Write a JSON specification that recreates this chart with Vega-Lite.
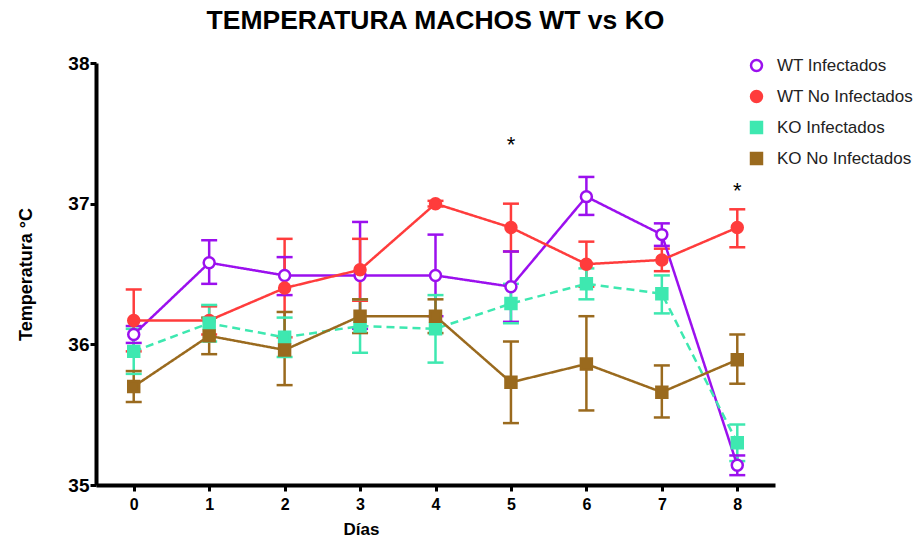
{
  "$schema": "https://vega.github.io/schema/vega-lite/v6.json",
  "autosize": "none",
  "width": 679,
  "height": 422,
  "padding": {"left": 96, "top": 63, "right": 149, "bottom": 58},
  "background": "white",
  "config": {
    "view": {"stroke": null},
    "font": "Liberation Sans",
    "axis": {"grid": false, "domainColor": "black", "tickColor": "black", "labelColor": "black", "titleColor": "black", "labelFont": "Liberation Sans", "titleFont": "Liberation Sans", "labelFontWeight": "bold", "titleFontWeight": "bold", "labelFontSize": 17, "titleFontSize": 17, "domainWidth": 4, "tickWidth": 3, "tickSize": 6},
    "legend": {"labelFont": "Liberation Sans", "labelFontSize": 17, "labelColor": "#222"}
  },
  "title": {"text": "TEMPERATURA MACHOS WT vs KO", "font": "Liberation Sans", "fontSize": 26.5, "fontWeight": "bold", "color": "black", "anchor": "middle", "offset": 20},
  "data": {"values": [
    {"g": "WT Infectados", "dia": 0, "m": 36.07, "lo": 36.01, "hi": 36.13},
    {"g": "WT Infectados", "dia": 1, "m": 36.58, "lo": 36.43, "hi": 36.74},
    {"g": "WT Infectados", "dia": 2, "m": 36.49, "lo": 36.35, "hi": 36.62},
    {"g": "WT Infectados", "dia": 3, "m": 36.49, "lo": 36.11, "hi": 36.87},
    {"g": "WT Infectados", "dia": 4, "m": 36.49, "lo": 36.20, "hi": 36.78},
    {"g": "WT Infectados", "dia": 5, "m": 36.41, "lo": 36.16, "hi": 36.66},
    {"g": "WT Infectados", "dia": 6, "m": 37.05, "lo": 36.92, "hi": 37.19},
    {"g": "WT Infectados", "dia": 7, "m": 36.78, "lo": 36.70, "hi": 36.86},
    {"g": "WT Infectados", "dia": 8, "m": 35.14, "lo": 35.07, "hi": 35.21},
    {"g": "WT No Infectados", "dia": 0, "m": 36.17, "lo": 35.95, "hi": 36.39},
    {"g": "WT No Infectados", "dia": 1, "m": 36.17, "lo": 36.07, "hi": 36.27},
    {"g": "WT No Infectados", "dia": 2, "m": 36.40, "lo": 36.05, "hi": 36.75},
    {"g": "WT No Infectados", "dia": 3, "m": 36.53, "lo": 36.31, "hi": 36.75},
    {"g": "WT No Infectados", "dia": 4, "m": 37.00, "lo": 36.98, "hi": 37.02},
    {"g": "WT No Infectados", "dia": 5, "m": 36.83, "lo": 36.66, "hi": 37.00},
    {"g": "WT No Infectados", "dia": 6, "m": 36.57, "lo": 36.41, "hi": 36.73},
    {"g": "WT No Infectados", "dia": 7, "m": 36.60, "lo": 36.52, "hi": 36.68},
    {"g": "WT No Infectados", "dia": 8, "m": 36.83, "lo": 36.69, "hi": 36.96},
    {"g": "KO Infectados", "dia": 0, "m": 35.95, "lo": 35.79, "hi": 36.11},
    {"g": "KO Infectados", "dia": 1, "m": 36.15, "lo": 36.02, "hi": 36.28},
    {"g": "KO Infectados", "dia": 2, "m": 36.05, "lo": 35.91, "hi": 36.19},
    {"g": "KO Infectados", "dia": 3, "m": 36.13, "lo": 35.94, "hi": 36.32},
    {"g": "KO Infectados", "dia": 4, "m": 36.11, "lo": 35.87, "hi": 36.35},
    {"g": "KO Infectados", "dia": 5, "m": 36.29, "lo": 36.15, "hi": 36.43},
    {"g": "KO Infectados", "dia": 6, "m": 36.43, "lo": 36.32, "hi": 36.54},
    {"g": "KO Infectados", "dia": 7, "m": 36.36, "lo": 36.22, "hi": 36.49},
    {"g": "KO Infectados", "dia": 8, "m": 35.30, "lo": 35.17, "hi": 35.43},
    {"g": "KO No Infectados", "dia": 0, "m": 35.70, "lo": 35.59, "hi": 35.81},
    {"g": "KO No Infectados", "dia": 1, "m": 36.06, "lo": 35.93, "hi": 36.19},
    {"g": "KO No Infectados", "dia": 2, "m": 35.96, "lo": 35.71, "hi": 36.23},
    {"g": "KO No Infectados", "dia": 3, "m": 36.20, "lo": 36.08, "hi": 36.32},
    {"g": "KO No Infectados", "dia": 4, "m": 36.20, "lo": 36.08, "hi": 36.32},
    {"g": "KO No Infectados", "dia": 5, "m": 35.73, "lo": 35.44, "hi": 36.02},
    {"g": "KO No Infectados", "dia": 6, "m": 35.86, "lo": 35.53, "hi": 36.20},
    {"g": "KO No Infectados", "dia": 7, "m": 35.66, "lo": 35.48, "hi": 35.85},
    {"g": "KO No Infectados", "dia": 8, "m": 35.89, "lo": 35.72, "hi": 36.07}
  ]},
  "encoding": {
    "x": {"field": "dia", "type": "quantitative", "scale": {"domain": [-0.5, 8.5], "nice": false, "zero": false},
      "axis": {"values": [0,1,2,3,4,5,6,7,8], "title": "Días", "titleX": 265, "titlePadding": 9, "labelPadding": 5, "labelFontSize": 16}},
    "y": {"field": "m", "type": "quantitative", "scale": {"domain": [35, 38], "nice": false, "zero": false},
      "axis": {"values": [35,36,37,38], "title": "Temperatura °C", "titleFontSize": 18, "titlePadding": 32, "labelPadding": 1, "labelFontSize": 19}},
    "stroke": {"field": "g", "type": "nominal", "title": null,
      "scale": {"domain": ["WT Infectados", "WT No Infectados", "KO Infectados", "KO No Infectados"], "range": ["#9b10ee", "#ff3c3c", "#3ee8b0", "#9a6a1e"]},
      "legend": {"orient": "none", "legendX": 652, "legendY": -6, "symbolSize": 120, "symbolStrokeWidth": 2.5, "rowPadding": 10, "labelOffset": 12, "title": null}}
  },
  "layer": [
    {
      "mark": {"type": "rule", "strokeWidth": 2.5},
      "encoding": {
        "y": {"field": "lo", "type": "quantitative"},
        "y2": {"field": "hi"}
      }
    },
    {
      "mark": {"type": "rule", "strokeWidth": 2.5, "xOffset": -8, "x2Offset": 8},
      "encoding": {
        "x2": {"field": "dia"},
        "y": {"field": "lo", "type": "quantitative"}
      }
    },
    {
      "mark": {"type": "rule", "strokeWidth": 2.5, "xOffset": -8, "x2Offset": 8},
      "encoding": {
        "x2": {"field": "dia"},
        "y": {"field": "hi", "type": "quantitative"}
      }
    },
    {
      "mark": {"type": "line", "strokeWidth": 2.5},
      "encoding": {
        "strokeDash": {"condition": {"test": "datum.g === 'KO Infectados'", "value": [8, 5]}, "value": [1, 0]}
      }
    },
    {
      "mark": {"type": "point", "strokeWidth": 2.5, "size": 120, "opacity": 1},
      "encoding": {
        "fill": {"field": "g", "type": "nominal", "title": null,
          "scale": {"domain": ["WT Infectados", "WT No Infectados", "KO Infectados", "KO No Infectados"], "range": ["white", "#ff3c3c", "#3ee8b0", "#9a6a1e"]}},
        "shape": {"field": "g", "type": "nominal", "title": null,
          "scale": {"domain": ["WT Infectados", "WT No Infectados", "KO Infectados", "KO No Infectados"], "range": ["circle", "circle", "square", "square"]}}
      }
    },
    {
      "data": {"values": [{"dia": 5, "m": 37.42, "label": "*"}, {"dia": 8, "m": 37.09, "label": "*"}]},
      "mark": {"type": "text", "fontSize": 22, "font": "Liberation Sans", "color": "black", "baseline": "middle"},
      "encoding": {"text": {"field": "label"}, "stroke": {"value": null}}
    }
  ]
}
